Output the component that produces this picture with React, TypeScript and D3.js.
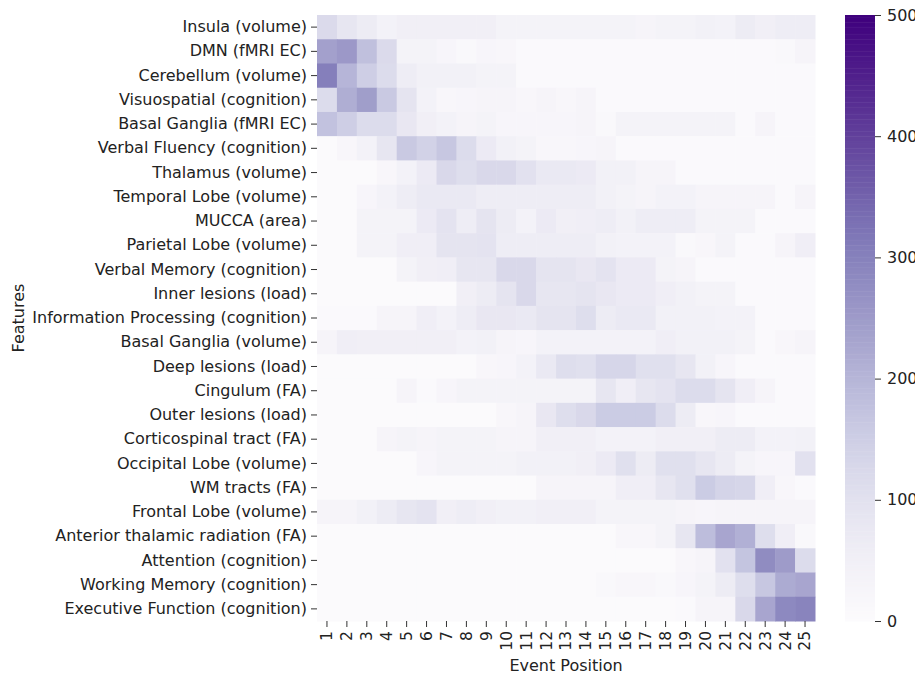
import React, { useRef, useEffect } from "react";
import * as d3 from "d3";

const features = [
  "Insula (volume)",
  "DMN (fMRI EC)",
  "Cerebellum (volume)",
  "Visuospatial (cognition)",
  "Basal Ganglia (fMRI EC)",
  "Verbal Fluency (cognition)",
  "Thalamus (volume)",
  "Temporal Lobe (volume)",
  "MUCCA (area)",
  "Parietal Lobe (volume)",
  "Verbal Memory (cognition)",
  "Inner lesions (load)",
  "Information Processing (cognition)",
  "Basal Ganglia (volume)",
  "Deep lesions (load)",
  "Cingulum (FA)",
  "Outer lesions (load)",
  "Corticospinal tract (FA)",
  "Occipital Lobe (volume)",
  "WM tracts (FA)",
  "Frontal Lobe (volume)",
  "Anterior thalamic radiation (FA)",
  "Attention (cognition)",
  "Working Memory (cognition)",
  "Executive Function (cognition)",
];

const positions = d3.range(1, 26).map(String);

// one row per feature, one value per event position
const counts: number[][] = [
  [120, 85, 65, 40, 50, 50, 50, 50, 50, 35, 35, 35, 35, 35, 35, 35, 30, 35, 35, 45, 40, 65, 50, 60, 60],
  [240, 255, 180, 120, 35, 35, 25, 15, 25, 20, 10, 10, 10, 10, 10, 10, 10, 10, 10, 10, 10, 10, 10, 15, 30],
  [305, 200, 150, 115, 60, 45, 45, 45, 35, 35, 10, 10, 10, 10, 10, 10, 10, 10, 10, 10, 10, 10, 10, 10, 10],
  [115, 215, 245, 160, 90, 40, 20, 25, 30, 30, 20, 30, 20, 30, 10, 10, 10, 10, 10, 10, 10, 10, 10, 10, 10],
  [175, 150, 115, 115, 80, 50, 40, 30, 35, 25, 25, 25, 25, 30, 15, 35, 35, 35, 35, 35, 35, 10, 30, 10, 10],
  [5, 20, 40, 85, 160, 140, 165, 115, 70, 45, 35, 20, 20, 25, 30, 10, 10, 10, 10, 10, 10, 10, 10, 10, 10],
  [5, 5, 5, 20, 40, 70, 125, 110, 125, 125, 100, 75, 75, 70, 45, 45, 30, 30, 10, 10, 10, 10, 10, 10, 10],
  [5, 5, 25, 40, 60, 75, 75, 75, 60, 60, 60, 60, 60, 60, 45, 35, 30, 40, 40, 30, 30, 30, 30, 10, 30],
  [5, 5, 35, 35, 35, 70, 95, 60, 90, 65, 40, 70, 50, 55, 60, 45, 60, 60, 60, 35, 35, 35, 10, 10, 10],
  [5, 5, 35, 35, 55, 55, 90, 90, 95, 60, 60, 60, 60, 60, 45, 40, 40, 40, 15, 20, 35, 10, 10, 30, 55],
  [5, 5, 5, 5, 35, 50, 55, 85, 85, 125, 125, 90, 90, 80, 95, 70, 70, 35, 30, 10, 10, 10, 10, 10, 10],
  [5, 5, 5, 5, 5, 5, 5, 50, 65, 90, 125, 85, 85, 90, 80, 70, 70, 55, 45, 35, 35, 10, 10, 10, 10],
  [10, 10, 10, 30, 30, 55, 40, 60, 80, 80, 75, 90, 90, 110, 65, 75, 75, 45, 45, 45, 40, 40, 10, 10, 10],
  [30, 55, 50, 50, 50, 50, 50, 40, 45, 30, 25, 40, 40, 40, 40, 40, 40, 55, 45, 45, 45, 35, 10, 20, 30],
  [5, 5, 5, 5, 5, 5, 5, 5, 20, 25, 40, 75, 110, 105, 130, 130, 105, 105, 85, 45, 25, 10, 10, 10, 10],
  [5, 5, 5, 5, 30, 10, 25, 35, 35, 35, 35, 35, 35, 35, 85, 55, 85, 95, 115, 115, 90, 55, 30, 10, 10],
  [5, 5, 5, 5, 5, 5, 5, 5, 5, 20, 30, 80, 110, 125, 155, 155, 155, 115, 65, 20, 25, 10, 10, 10, 10],
  [5, 5, 5, 30, 35, 30, 35, 35, 35, 30, 30, 50, 50, 50, 40, 40, 40, 50, 50, 50, 65, 65, 40, 40, 45],
  [5, 5, 5, 5, 5, 25, 35, 35, 35, 35, 45, 45, 45, 50, 70, 105, 65, 105, 105, 85, 65, 35, 25, 25, 100],
  [5, 5, 5, 5, 5, 5, 5, 5, 5, 5, 5, 30, 30, 30, 30, 55, 55, 85, 105, 155, 135, 130, 55, 20, 10],
  [30, 30, 45, 65, 85, 95, 50, 60, 50, 45, 45, 50, 50, 50, 35, 35, 35, 35, 30, 25, 30, 30, 30, 30, 30],
  [5, 5, 5, 5, 5, 5, 5, 5, 5, 5, 5, 5, 5, 5, 5, 20, 20, 35, 85, 185, 230, 210, 110, 55, 15],
  [5, 5, 5, 5, 5, 5, 5, 5, 5, 5, 5, 5, 5, 5, 5, 5, 5, 5, 20, 30, 100, 170, 280, 250, 115],
  [5, 5, 5, 5, 5, 5, 5, 5, 5, 5, 5, 5, 5, 5, 15, 20, 20, 15, 25, 35, 65, 110, 165, 220, 230],
  [5, 5, 5, 5, 5, 5, 5, 5, 5, 5, 5, 5, 5, 5, 5, 5, 5, 5, 10, 30, 30, 125, 230, 285, 295],
];

const colorTicks = [0, 100, 200, 300, 400, 500];

const App: React.FC = () => {
  const svgRef = useRef<SVGSVGElement | null>(null);

  useEffect(() => {
    if (!svgRef.current) return;
    const svg = d3.select(svgRef.current);
    svg.selectAll("*").remove();

    const margin = { top: 15, left: 317 };
    const width = 498;
    const height = 606;
    const font = "DejaVu Sans, sans-serif";

    const x = d3.scaleBand<string>().domain(positions).range([0, width]);
    const y = d3.scaleBand<string>().domain(features).range([0, height]);
    const color = d3.scaleSequential(d3.interpolatePurples).domain([0, 500]);

    const chart = svg
      .append("g")
      .attr("transform", `translate(${margin.left},${margin.top})`);

    // cells
    const cells = counts.flatMap((row, i) =>
      row.map((v, j) => ({ f: features[i], p: positions[j], v }))
    );
    chart
      .selectAll(".cell")
      .data(cells)
      .enter()
      .append("rect")
      .attr("class", "cell")
      .attr("x", (d) => x(d.p)!)
      .attr("y", (d) => y(d.f)!)
      .attr("width", x.bandwidth() + 0.5)
      .attr("height", y.bandwidth() + 0.5)
      .attr("fill", (d) => color(d.v));

    // y axis
    const yAxis = chart
      .append("g")
      .call(d3.axisLeft(y).tickSize(6).tickPadding(4));
    yAxis.select(".domain").remove();
    yAxis
      .selectAll("text")
      .style("font-family", font)
      .style("font-size", "16px")
      .attr("fill", "#222");
    yAxis.selectAll("line").attr("stroke", "#333");

    // x axis
    const xAxis = chart
      .append("g")
      .attr("transform", `translate(0,${height})`)
      .call(d3.axisBottom(x).tickSize(6).tickPadding(4));
    xAxis.select(".domain").remove();
    xAxis.selectAll("line").attr("stroke", "#333");
    xAxis
      .selectAll("text")
      .attr("transform", "rotate(-90)")
      .attr("x", -10)
      .attr("y", 0)
      .attr("dy", "0.35em")
      .style("text-anchor", "end")
      .style("font-family", font)
      .style("font-size", "15.5px")
      .attr("fill", "#222");

    // axis titles
    svg
      .append("text")
      .attr("x", margin.left + width / 2)
      .attr("y", 671)
      .attr("text-anchor", "middle")
      .style("font-family", font)
      .style("font-size", "16px")
      .attr("fill", "#222")
      .text("Event Position");

    svg
      .append("text")
      .attr("transform", `translate(24,${margin.top + height / 2}) rotate(-90)`)
      .attr("text-anchor", "middle")
      .style("font-family", font)
      .style("font-size", "16px")
      .attr("fill", "#222")
      .text("Features");

    // colorbar
    const cbX = 845;
    const cbW = 30;
    const cScale = d3.scaleLinear().domain([0, 500]).range([margin.top + height, margin.top]);
    const steps = d3.range(0, 500, 2);
    svg
      .append("g")
      .selectAll("rect")
      .data(steps)
      .enter()
      .append("rect")
      .attr("x", cbX)
      .attr("y", (d) => cScale(d + 2))
      .attr("width", cbW)
      .attr("height", (d) => cScale(d) - cScale(d + 2) + 0.5)
      .attr("fill", (d) => color(d + 1));

    const cAxis = svg
      .append("g")
      .attr("transform", `translate(${cbX + cbW},0)`)
      .call(d3.axisRight(cScale).tickValues(colorTicks).tickSize(6).tickPadding(6));
    cAxis.select(".domain").remove();
    cAxis.selectAll("line").attr("stroke", "#333");
    cAxis
      .selectAll("text")
      .style("font-family", font)
      .style("font-size", "16px")
      .attr("fill", "#222");
  }, []);

  return (
    <svg
      ref={svgRef}
      width={915}
      height={676}
      style={{ position: "absolute", left: 0, top: 0, display: "block" }}
    ></svg>
  );
};

export default App;
